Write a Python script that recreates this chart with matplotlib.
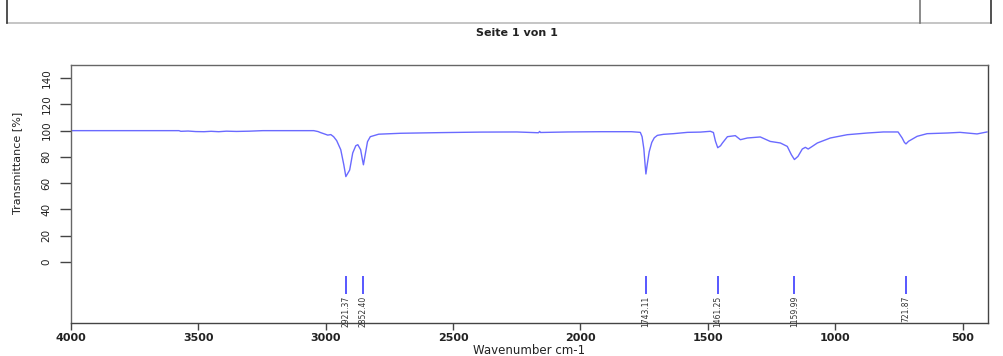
import matplotlib
matplotlib.use("Agg")
import matplotlib.pyplot as plt
from matplotlib.lines import Line2D

# IR spectrum (wavenumber cm-1, transmittance %)
wavenumber = [4000, 3576, 3569, 3540, 3510, 3478, 3450, 3420, 3390, 3350, 3300, 3247,
              3150, 3047, 3030, 3020, 3008, 2992, 2980, 2969, 2957, 2941, 2929, 2921,
              2906, 2894, 2882, 2874, 2863, 2857, 2852, 2845, 2836, 2825, 2792, 2706,
              2549, 2392, 2250, 2165, 2160, 2157, 2050, 1921, 1800, 1765, 1758, 1751,
              1747, 1743, 1738, 1730, 1720, 1710, 1698, 1674, 1635, 1580, 1529, 1490,
              1478, 1470, 1461, 1450, 1443, 1423, 1392, 1372, 1345, 1294, 1255, 1215,
              1188, 1172, 1160, 1146, 1129, 1117, 1106, 1090, 1070, 1019, 953, 874,
              811, 753, 737, 728, 722, 712, 678, 639, 560, 510, 443, 404]
transmittance = [100, 100, 99.5, 99.7, 99.3, 99.2, 99.5, 99.2, 99.6, 99.4, 99.6, 100,
                 100, 100, 99.3, 98.5, 97.7, 96.6, 97.0, 95.4, 92.4, 85.5, 74, 65,
                 70, 83, 88.5, 89.3, 85.5, 79, 74, 81.7, 91.6, 95.4, 97.3, 98.0,
                 98.5, 98.9, 99.0, 98.4, 99.4, 98.6, 99.0, 99.2, 99.2, 98.7, 95.4, 86,
                 76, 67, 74, 84, 91, 94.6, 96.4, 97.2, 97.7, 98.7, 98.9, 99.5,
                 98.6, 92, 87, 88.5, 90.5, 95.4, 96.2, 93.1, 94.4, 95.2, 91.8, 90.6,
                 88, 81.7, 78, 80.4, 86, 87.3, 86, 88, 90.6, 94.4, 96.9, 98.2,
                 99.0, 99.0, 94.4, 91, 89.9, 91.9, 95.7, 97.7, 98.2, 98.7, 97.5, 99.0]

peak_pos = [2921.37, 2852.40, 1743.11, 1461.25, 1159.99, 721.87]
peak_labels = ["2921.37", "2852.40", "1743.11", "1461.25", "1159.99", "721.87"]

narrow = ["DejaVu Sans Condensed", "Liberation Sans Narrow", "DejaVu Sans"]

fig = plt.figure(figsize=(10.04, 3.56), dpi=100)
ax = fig.add_axes([71 / 1004, 1 - 323 / 356, 917 / 1004, 258 / 356])

ax.plot(wavenumber, transmittance, color="#6a6aff", linewidth=1.0)

# peak markers and their labels
ax.vlines(peak_pos, -24.5, -10.5, color="#4a4aff", linewidth=1.3)
for p, lab in zip(peak_pos, peak_labels):
    ax.text(p, -26, lab, rotation=90, ha="center", va="top", fontsize=5.5,
            family=narrow, color="#333333")

ax.set_xlim(4000, 400)
ax.set_ylim(-46.5, 150)
ax.set_xticks([4000, 3500, 3000, 2500, 2000, 1500, 1000, 500])
ax.set_yticks(range(0, 141, 20))

for s in ax.spines.values():
    s.set_color("#666666")
    s.set_linewidth(1.0)
ax.spines["bottom"].set_color("#444444")
ax.spines["right"].set_color("#444444")

ax.tick_params(axis="x", length=5, width=1, pad=2, color="#444444", labelsize=8)
ax.tick_params(axis="y", length=8, width=1, pad=6, color="#444444", labelsize=7.5,
               labelrotation=90)
for t in ax.get_xticklabels():
    t.set_fontweight("bold")
    t.set_color("#222222")
for t in ax.get_yticklabels():
    t.set_family(narrow)
    t.set_verticalalignment("center")
    t.set_color("#222222")

fig.text(529 / 1004, 1 - 351 / 356, "Wavenumber cm-1", ha="center", va="center",
         fontsize=8.5, color="#222222")
fig.text(17 / 1004, 1 - 163 / 356, "Transmittance [%]", rotation=90, ha="center",
         va="center", fontsize=8, family=narrow, color="#222222")

# page header remnants
fig.add_artist(Line2D([7 / 1004, 991 / 1004], [1 - 23 / 356, 1 - 23 / 356],
                      color="#bbbbbb", linewidth=1.2))
for xp, c in [(7, "#333333"), (920, "#777777"), (991, "#333333")]:
    fig.add_artist(Line2D([xp / 1004, xp / 1004], [1 - 23 / 356, 1.0],
                          color=c, linewidth=1.2))
fig.text(517 / 1004, 1 - 33 / 356, "Seite 1 von 1", ha="center", va="center",
         fontsize=8, fontweight="bold", color="#222222")

plt.savefig("out.png", dpi=100)
